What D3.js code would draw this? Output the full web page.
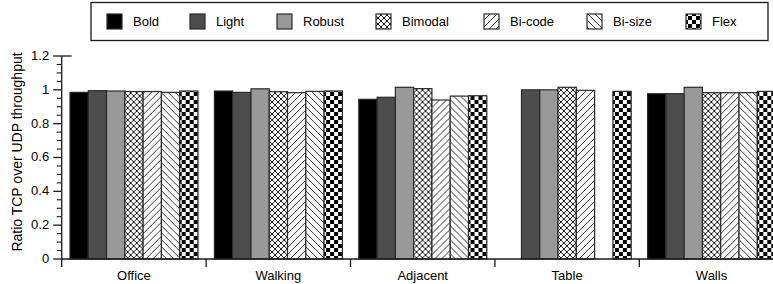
<!DOCTYPE html>
<html>
<head>
<meta charset="utf-8">
<script src="https://cdn.jsdelivr.net/npm/d3@7/dist/d3.min.js"></script>
<style>
  html, body { margin: 0; padding: 0; background: #fff; }
  svg { display: block; }
  text { font-family: "Liberation Sans", Arial, sans-serif; fill: #000; }
</style>
</head>
<body>
<svg id="chart" width="773" height="284"></svg>
<script>
const categories = ["Office", "Walking", "Adjacent", "Table", "Walls"];
const seriesNames = ["Bold", "Light", "Robust", "Bimodal", "Bi-code", "Bi-size", "Flex"];
const bold    = [0.985, 0.993, 0.944, null,  0.977];
const light   = [0.995, 0.985, 0.956, 1.000, 0.977];
const robust  = [0.993, 1.006, 1.015, 1.000, 1.015];
const bimodal = [0.990, 0.989, 1.007, 1.015, 0.983];
const bicode  = [0.990, 0.983, 0.940, 0.997, 0.983];
const bisize  = [0.985, 0.991, 0.963, null,  0.983];
const flex    = [0.993, 0.993, 0.965, 0.991, 0.991];
const yTicks = [0, 0.2, 0.4, 0.6, 0.8, 1, 1.2];
const yLabel = "Ratio TCP over UDP throughput";

const seriesValues = [bold, light, robust, bimodal, bicode, bisize, flex];
const fills = ["#000000", "#4d4d4d", "#999999", "url(#pBimodal)", "url(#pBicode)", "url(#pBisize)", "url(#pFlex)"];

const svg = d3.select("#chart");
const defs = svg.append("defs");

// crosshatch
const p1 = defs.append("pattern").attr("id", "pBimodal").attr("patternUnits", "userSpaceOnUse")
  .attr("width", 6).attr("height", 6);
p1.append("rect").attr("width", 6).attr("height", 6).attr("fill", "#fff");
p1.append("path").attr("d", "M0,0L6,6M6,0L0,6M-1,5L1,7M5,-1L7,1M-1,1L1,-1M5,7L7,5")
  .attr("stroke", "#000").attr("stroke-width", 0.9).attr("fill", "none");
// forward slash
const p2 = defs.append("pattern").attr("id", "pBicode").attr("patternUnits", "userSpaceOnUse")
  .attr("width", 7).attr("height", 7);
p2.append("rect").attr("width", 7).attr("height", 7).attr("fill", "#fff");
p2.append("path").attr("d", "M0,7L7,0M-1,1L1,-1M6,8L8,6")
  .attr("stroke", "#000").attr("stroke-width", 0.8).attr("fill", "none");
// back slash
const p3 = defs.append("pattern").attr("id", "pBisize").attr("patternUnits", "userSpaceOnUse")
  .attr("width", 7).attr("height", 7);
p3.append("rect").attr("width", 7).attr("height", 7).attr("fill", "#fff");
p3.append("path").attr("d", "M0,0L7,7M-1,6L1,8M6,-1L8,1")
  .attr("stroke", "#000").attr("stroke-width", 0.8).attr("fill", "none");
// checkerboard
const p4 = defs.append("pattern").attr("id", "pFlex").attr("patternUnits", "userSpaceOnUse")
  .attr("width", 8).attr("height", 8);
p4.append("rect").attr("width", 8).attr("height", 8).attr("fill", "#fff");
p4.append("rect").attr("x", 0).attr("y", 0).attr("width", 4).attr("height", 4).attr("fill", "#000");
p4.append("rect").attr("x", 4).attr("y", 4).attr("width", 4).attr("height", 4).attr("fill", "#000");

const x0 = 61.7, bandW = 144.4;
const x = d3.scaleBand().domain(categories).range([x0, x0 + bandW * categories.length]).padding(0);
const xs = d3.scaleBand().domain(seriesNames).range([8.3, bandW - 8.1]).padding(0);
const y = d3.scaleLinear().domain([0, 1.2]).range([259, 56]);

// bars
categories.forEach((c, ci) => {
  const g = svg.append("g").attr("transform", `translate(${x(c)},0)`);
  seriesNames.forEach((s, si) => {
    const v = seriesValues[si][ci];
    if (v == null) return;
    g.append("rect")
      .attr("x", xs(s)).attr("width", xs.bandwidth())
      .attr("y", y(v)).attr("height", y(0) - y(v))
      .attr("fill", fills[si]).attr("stroke", "#2a2a2a").attr("stroke-width", 1.2);
  });
});

// y axis
const axisColor = "#1a1a1a";
const yAxis = svg.append("g");
yAxis.append("line").attr("x1", x0).attr("x2", x0).attr("y1", y(1.2)).attr("y2", 267)
  .attr("stroke", axisColor).attr("stroke-width", 1.3);
d3.range(0, 1.2001, 0.05).forEach(t => {
  const major = Math.abs(t * 5 - Math.round(t * 5)) < 1e-6;
  if (!major) {
    yAxis.append("line").attr("x1", x0 - 5).attr("x2", x0).attr("y1", y(t)).attr("y2", y(t))
      .attr("stroke", axisColor).attr("stroke-width", 1.1);
  }
});
yTicks.forEach(t => {
  yAxis.append("line").attr("x1", x0 - 8.5).attr("x2", t === 1.2 ? x0 + 10 : x0)
    .attr("y1", y(t)).attr("y2", y(t)).attr("stroke", axisColor).attr("stroke-width", 1.3);
  yAxis.append("text").attr("x", x0 - 12.5).attr("y", y(t)).attr("dy", "0.3em")
    .attr("text-anchor", "end").attr("font-size", 13).text(d3.format("~g")(t));
});
svg.append("text").attr("transform", `translate(22,152) rotate(-90)`)
  .attr("text-anchor", "middle").attr("font-size", 14).text(yLabel);

// x axis
const xAxis = svg.append("g");
xAxis.append("line").attr("x1", x0).attr("x2", 773).attr("y1", y(0)).attr("y2", y(0))
  .attr("stroke", axisColor).attr("stroke-width", 1.3);
categories.forEach((c, i) => {
  if (i > 0) {
    xAxis.append("line").attr("x1", x(c)).attr("x2", x(c)).attr("y1", y(0)).attr("y2", 267)
      .attr("stroke", axisColor).attr("stroke-width", 1.3);
  }
  xAxis.append("text").attr("x", x(c) + x.bandwidth() / 2).attr("y", 280)
    .attr("text-anchor", "middle").attr("font-size", 13).text(c);
});

// legend
const legend = svg.append("g");
legend.append("rect").attr("x", 91).attr("y", 2.5).attr("width", 677).attr("height", 38)
  .attr("fill", "#fff").attr("stroke", "#1a1a1a").attr("stroke-width", 1.3);
const legX = [107, 190, 277, 376, 484, 587, 686];
seriesNames.forEach((s, i) => {
  legend.append("rect").attr("x", legX[i]).attr("y", 14).attr("width", 15).attr("height", 15)
    .attr("fill", fills[i]).attr("stroke", "#2a2a2a").attr("stroke-width", 1.2);
  legend.append("text").attr("x", legX[i] + 26).attr("y", 21.5).attr("dy", "0.36em")
    .attr("font-size", 13).text(s);
});
</script>
</body>
</html>
